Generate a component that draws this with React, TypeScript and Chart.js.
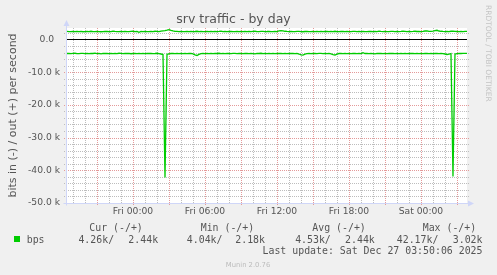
import React, { useEffect, useRef } from 'react';
import { Chart, registerables } from 'chart.js';

Chart.register(...registerables);

const TITLE = 'srv traffic - by day';
const Y_AXIS_TITLE = 'bits in (-) / out (+) per second';
const X_TICK_HOURS = [0, 6, 12, 18, 24];
const X_TICK_LABELS = ['Fri 00:00', 'Fri 06:00', 'Fri 12:00', 'Fri 18:00', 'Sat 00:00'];
const Y_TICK_VALUES = [0, -10000, -20000, -30000, -40000, -50000];
const Y_TICK_LABELS = ['0.0  ', '-10.0 k', '-20.0 k', '-30.0 k', '-40.0 k', '-50.0 k'];
const X_MIN_HOUR = -5.5;
const X_MAX_HOUR = 27.835;
const Y_MIN = -50000;
const Y_MAX = 3500;
const SAMPLE_START_HOUR = -5.5;
const SAMPLE_STEP_HOUR = 1 / 6;

// out (+) traffic, kbit/s, one sample per 10 minutes
const outKbps = [
  2.45, 2.40, 2.42, 2.48, 2.38, 2.44, 2.40, 2.46, 2.36, 2.42,
  2.44, 2.40, 2.50, 2.42, 2.38, 2.45, 2.41, 2.36, 2.40, 2.47,
  2.43, 2.39, 2.41, 2.52, 2.44, 2.40, 2.37, 2.45, 2.42, 2.48,
  2.40, 2.38, 2.44, 2.50, 2.41, 2.46, 2.18, 2.43, 2.40, 2.47,
  2.42, 2.38, 2.45, 2.41, 2.50, 2.44, 2.39, 2.55, 2.62, 2.70,
  2.85, 3.02, 2.75, 2.60, 2.48, 2.44, 2.40, 2.46, 2.42, 2.38,
  2.45, 2.41, 2.48, 2.39, 2.43, 2.50, 2.40, 2.44, 2.37, 2.42,
  2.46, 2.40, 2.43, 2.38, 2.47, 2.41, 2.44, 2.52, 2.40, 2.45,
  2.39, 2.43, 2.46, 2.40, 2.42, 2.48, 2.38, 2.44, 2.41, 2.47,
  2.40, 2.43, 2.39, 2.45, 2.50, 2.42, 2.38, 2.44, 2.46, 2.40,
  2.43, 2.48, 2.41, 2.39, 2.45, 2.42, 2.60, 2.72, 2.65, 2.50,
  2.44, 2.40, 2.46, 2.42, 2.38, 2.44, 2.47, 2.41, 2.36, 2.43,
  2.45, 2.40, 2.42, 2.48, 2.39, 2.44, 2.41, 2.46, 2.38, 2.43,
  2.47, 2.40, 2.44, 2.42, 2.50, 2.41, 2.38, 2.45, 2.43, 2.40,
  2.46, 2.42, 2.39, 2.44, 2.48, 2.41, 2.43, 2.37, 2.45, 2.42,
  2.40, 2.47, 2.43, 2.39, 2.45, 2.41, 2.52, 2.44, 2.40, 2.46,
  2.42, 2.38, 2.44, 2.49, 2.41, 2.43, 2.40, 2.46, 2.55, 2.48,
  2.42, 2.45, 2.40, 2.44, 2.50, 2.43, 2.47, 2.41, 2.44, 2.58,
  2.62, 2.48, 2.45, 2.52, 2.68, 2.80, 2.58, 2.50, 2.44, 2.40,
  2.46, 2.42, 2.50, 2.55, 2.47, 2.43, 2.40, 2.45, 2.38, 2.44,
  2.44,
];

// in (-) traffic, kbit/s (drawn negative), one sample per 10 minutes
const inKbps = [
  4.30, 4.25, 4.34, 4.28, 4.22, 4.31, 4.36, 4.27, 4.24, 4.33,
  4.29, 4.35, 4.26, 4.30, 4.21, 4.32, 4.28, 4.38, 4.25, 4.30,
  4.27, 4.33, 4.24, 4.31, 4.29, 4.36, 4.22, 4.28, 4.34, 4.26,
  4.30, 4.25, 4.37, 4.29, 4.23, 4.32, 4.28, 4.35, 4.26, 4.31,
  4.24, 4.30, 4.27, 4.34, 4.29, 4.22, 4.33, 4.45, 4.60, 42.17,
  4.55, 4.40, 4.30, 4.25, 4.33, 4.28, 4.36, 4.24, 4.31, 4.27,
  4.34, 4.29, 4.25, 4.40, 4.70, 4.90, 4.55, 4.32, 4.27, 4.33,
  4.26, 4.31, 4.24, 4.35, 4.28, 4.30, 4.22, 4.34, 4.27, 4.32,
  4.25, 4.30, 4.36, 4.28, 4.23, 4.33, 4.29, 4.26, 4.35, 4.30,
  4.27, 4.32, 4.24, 4.31, 4.38, 4.26, 4.30, 4.22, 4.34, 4.28,
  4.31, 4.25, 4.33, 4.29, 4.36, 4.27, 4.30, 4.24, 4.32, 4.28,
  4.35, 4.26, 4.30, 4.23, 4.34, 4.29, 4.45, 4.70, 4.80, 4.50,
  4.32, 4.27, 4.33, 4.25, 4.30, 4.36, 4.28, 4.24, 4.31, 4.27,
  4.34, 4.29, 4.40, 4.65, 4.75, 4.48, 4.30, 4.26, 4.33, 4.28,
  4.31, 4.25, 4.36, 4.29, 4.23, 4.32, 4.28, 4.34, 4.04, 4.30,
  4.27, 4.33, 4.25, 4.31, 4.38, 4.26, 4.30, 4.24, 4.35, 4.29,
  4.32, 4.27, 4.30, 4.23, 4.34, 4.28, 4.36, 4.25, 4.31, 4.29,
  4.33, 4.26, 4.30, 4.24, 4.35, 4.28, 4.31, 4.27, 4.34, 4.29,
  4.25, 4.32, 4.28, 4.36, 4.30, 4.24, 4.33, 4.27, 4.31, 4.45,
  4.60, 4.50, 4.35, 41.90, 4.48, 4.32, 4.27, 4.30, 4.25, 4.28,
  4.26,
];

const LEGEND_SERIES = 'bps';
const LEGEND_HEADERS = ['Cur (-/+)', 'Min (-/+)', 'Avg (-/+)', 'Max (-/+)'];
const LEGEND_IN = ['4.26k/', '4.04k/', '4.53k/', '42.17k/'];
const LEGEND_OUT = ['2.44k', '2.18k', '2.44k', '3.02k'];
const LAST_UPDATE = 'Last update: Sat Dec 27 03:50:06 2025';
const WATERMARK = 'Munin 2.0.76';
const SIDE_TEXT = 'RRDTOOL / TOBI OETIKER';

const SERIES_COLOR = '#00CC00';
const TEXT_COLOR = '#555555';
const FONT = 'DejaVu Sans';
const MONO = 'DejaVu Sans Mono';

const HEADER_X = [89.3, 200.7, 312.3, 422.7];
const IN_RIGHT_X = [114.1, 222.5, 330.8, 438.4];
const OUT_RIGHT_X = [158.1, 265, 374.8, 482.5];

const muninPlugin = {
  id: 'muninDecor',
  beforeDraw(chart: any) {
    const { ctx, chartArea: a } = chart;
    ctx.save();
    ctx.fillStyle = '#F0F0F0';
    ctx.fillRect(0, 0, chart.width, chart.height);
    ctx.fillStyle = '#FFFFFF';
    ctx.fillRect(a.left, a.top, a.right - a.left, a.bottom - a.top);
    ctx.restore();
  },
  beforeDatasetsDraw(chart: any) {
    const { ctx, chartArea: a, scales } = chart;
    const xs = scales.x;
    const ys = scales.y;
    ctx.save();
    ctx.lineWidth = 1;
    ctx.setLineDash([1, 1]);
    for (let v = Y_MIN; v <= Y_MAX; v += 2000) {
      if (v === 0) continue;
      const major = v % 10000 === 0;
      const y = Math.round(ys.getPixelForValue(v)) + 0.5;
      ctx.strokeStyle = major ? '#E49A9A' : '#BDBDBD';
      ctx.beginPath();
      ctx.moveTo(a.left - 3, y);
      ctx.lineTo(a.right + 2, y);
      ctx.stroke();
    }
    for (let h = Math.ceil(X_MIN_HOUR); h <= X_MAX_HOUR; h += 1) {
      const major = ((h % 3) + 3) % 3 === 0;
      const x = Math.round(xs.getPixelForValue(h)) + 0.5;
      ctx.strokeStyle = major ? '#E49A9A' : '#BDBDBD';
      ctx.beginPath();
      ctx.moveTo(x, a.top);
      ctx.lineTo(x, a.bottom + (major ? 3 : 0));
      ctx.stroke();
    }
    ctx.setLineDash([]);
    const y0 = Math.round(ys.getPixelForValue(0)) + 0.5;
    ctx.strokeStyle = '#000000';
    ctx.beginPath();
    ctx.moveTo(a.left, y0);
    ctx.lineTo(a.right, y0);
    ctx.stroke();
    ctx.restore();
  },
  afterDatasetsDraw(chart: any) {
    const { ctx, chartArea: a } = chart;
    ctx.save();
    ctx.strokeStyle = '#CFD6F8';
    ctx.fillStyle = '#CFD6F8';
    ctx.lineWidth = 1;
    const ax = Math.round(a.left) - 0.5;
    const ay = Math.round(a.bottom) + 0.5;
    ctx.beginPath();
    ctx.moveTo(ax, ay + 2);
    ctx.lineTo(ax, a.top - 4);
    ctx.moveTo(ax - 3, ay);
    ctx.lineTo(a.right + 3, ay);
    ctx.stroke();
    ctx.beginPath();
    ctx.moveTo(ax - 3, a.top - 2);
    ctx.lineTo(ax + 3, a.top - 2);
    ctx.lineTo(ax, a.top - 8);
    ctx.closePath();
    ctx.fill();
    ctx.beginPath();
    ctx.moveTo(a.right + 1, ay - 3);
    ctx.lineTo(a.right + 1, ay + 3);
    ctx.lineTo(a.right + 7, ay);
    ctx.closePath();
    ctx.fill();
    ctx.restore();
  },
  afterDraw(chart: any) {
    const { ctx } = chart;
    ctx.save();
    ctx.fillStyle = TEXT_COLOR;
    ctx.textBaseline = 'alphabetic';
    ctx.font = `9.9px "${MONO}"`;
    ctx.textAlign = 'left';
    LEGEND_HEADERS.forEach((t, i) => ctx.fillText(t, HEADER_X[i], 231));
    ctx.fillText(LEGEND_SERIES, 26.7, 242.5);
    ctx.textAlign = 'right';
    LEGEND_IN.forEach((t, i) => ctx.fillText(t, IN_RIGHT_X[i], 242.5));
    LEGEND_OUT.forEach((t, i) => ctx.fillText(t, OUT_RIGHT_X[i], 242.5));
    ctx.fillText(LAST_UPDATE, 482.5, 254.3);
    ctx.fillStyle = SERIES_COLOR;
    ctx.fillRect(14, 236, 6, 6);
    ctx.fillStyle = '#BBBBBB';
    ctx.textAlign = 'center';
    ctx.font = `6.8px "${FONT}"`;
    ctx.fillText(WATERMARK, 248, 266.5);
    ctx.translate(488, 5);
    ctx.rotate(Math.PI / 2);
    ctx.textAlign = 'left';
    ctx.textBaseline = 'middle';
    ctx.font = `7.5px "${FONT}"`;
    ctx.fillStyle = '#C4C4C4';
    ctx.fillText(SIDE_TEXT, 0, 0);
    ctx.restore();
  },
};

export default function App() {
  const canvasRef = useRef<HTMLCanvasElement | null>(null);

  useEffect(() => {
    const canvas = canvasRef.current;
    if (!canvas) return;
    const outData = outKbps.map((v, i) => ({ x: SAMPLE_START_HOUR + i * SAMPLE_STEP_HOUR, y: v * 1000 }));
    const inData = inKbps.map((v, i) => ({ x: SAMPLE_START_HOUR + i * SAMPLE_STEP_HOUR, y: -v * 1000 }));
    const chart = new Chart(canvas, {
      type: 'line',
      data: {
        datasets: [
          { label: 'bps out', data: outData, borderColor: SERIES_COLOR, borderWidth: 1.3, pointRadius: 0, tension: 0 },
          { label: 'bps in', data: inData, borderColor: SERIES_COLOR, borderWidth: 1.3, pointRadius: 0, tension: 0 },
        ],
      },
      options: {
        animation: false,
        responsive: false,
        devicePixelRatio: 1,
        events: [],
        layout: { padding: { left: 0, right: 30, top: 0, bottom: 0 } },
        plugins: {
          legend: { display: false },
          tooltip: { enabled: false },
          title: {
            display: true,
            text: TITLE,
            color: TEXT_COLOR,
            font: { family: FONT, size: 12.5, weight: 'normal', lineHeight: 1.2 },
            padding: { top: 12, bottom: 1 },
          },
        },
        scales: {
          x: {
            type: 'linear',
            min: X_MIN_HOUR,
            max: X_MAX_HOUR,
            grid: { display: false, drawTicks: false },
            border: { display: false },
            ticks: {
              autoSkip: false,
              maxRotation: 0,
              padding: 3,
              color: TEXT_COLOR,
              font: { family: FONT, size: 9.2 },
              callback: (v: any, i: number) => X_TICK_LABELS[i] ?? '',
            },
            afterBuildTicks: (s: any) => {
              s.ticks = X_TICK_HOURS.map((v) => ({ value: v }));
            },
            afterFit: (s: any) => {
              s.height = 72;
              s.paddingLeft = 0;
              s.paddingRight = 0;
            },
          },
          y: {
            type: 'linear',
            min: Y_MIN,
            max: Y_MAX,
            grid: { display: false, drawTicks: false },
            border: { display: false },
            ticks: {
              padding: 7,
              color: TEXT_COLOR,
              font: { family: FONT, size: 9.2 },
              callback: (v: any, i: number) => Y_TICK_LABELS[i] ?? '',
            },
            title: {
              display: true,
              text: Y_AXIS_TITLE,
              color: TEXT_COLOR,
              font: { family: FONT, size: 11 },
              padding: { top: 7, bottom: 0 },
            },
            afterBuildTicks: (s: any) => {
              s.ticks = Y_TICK_VALUES.map((v) => ({ value: v }));
            },
            afterFit: (s: any) => {
              s.width = 67;
              s.paddingTop = 0;
              s.paddingBottom = 0;
            },
          },
        },
      },
      plugins: [muninPlugin],
    } as any);
    return () => chart.destroy();
  }, []);

  return (
    <div style={{ position: 'absolute', left: 0, top: 0, width: 497, height: 275 }}>
      <canvas ref={canvasRef} width={497} height={275} style={{ width: 497, height: 275, display: 'block' }} />
    </div>
  );
}
